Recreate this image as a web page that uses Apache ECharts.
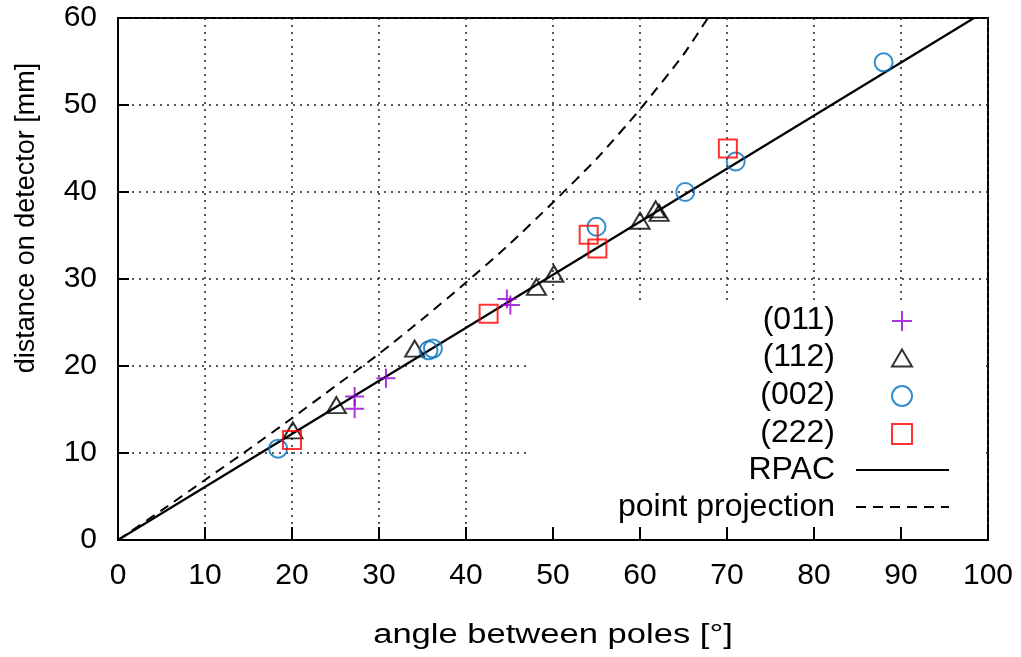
<!DOCTYPE html>
<html>
<head>
<meta charset="utf-8">
<script src="https://cdn.jsdelivr.net/npm/echarts@6/dist/echarts.min.js"></script>
<style>
  html, body { margin: 0; padding: 0; background: #fff; }
  #chart { width: 1021px; height: 657px; }
</style>
</head>
<body>
<div id="chart"></div>
<script>
// Measured pole positions: [angle between poles (deg), distance on detector (mm)]
const poles011 = [[27.2, 16.5], [27.2, 15.1], [30.8, 18.6], [44.7, 27.7], [45.1, 27.0]];
const poles112 = [[20.1, 12.6], [25.1, 15.5], [34.1, 22.0], [48.1, 29.1], [50.1, 30.6],
                  [60.0, 36.7], [61.8, 38.0], [62.2, 37.6]];
const poles002 = [[18.4, 10.5], [35.7, 21.8], [36.2, 22.0], [55.0, 36.0], [65.2, 40.0],
                  [71.0, 43.5], [88.0, 54.9]];
const poles222 = [[20.0, 11.5], [42.6, 26.0], [54.1, 35.1], [55.1, 33.5], [70.1, 45.0]];

// Model curves
const rpacCurve = [[0, 0], [98.4, 60]];
const pointProjectionCurve = [[0, 0], [5, 3.4], [10, 6.9], [15, 10.4], [20, 14.0], [25, 17.7],
  [30, 21.4], [35, 25.4], [40, 29.6], [45, 34.0], [50, 38.8], [55, 43.8], [60, 49.5],
  [65, 55.8], [67.8, 60]];

// Axis ranges / tick spacing
const xRange = { min: 0, max: 100, step: 10 };
const yRange = { min: 0, max: 60, step: 10 };

const xTitle = 'angle between poles [°]';
const yTitle = 'distance on detector [mm]';
const keyNames = ['(011)', '(112)', '(002)', '(222)', 'RPAC', 'point projection'];

const FONT = '"Liberation Sans", Arial, Helvetica, sans-serif';
const chart = echarts.init(document.getElementById('chart'), null, { renderer: 'canvas' });

const gridDots = { color: '#222', width: 1.5, type: [2, 5] };

// key layout: row centres, label right edge, symbol column centre, line sample extent
const keyRowY = [320, 357, 395, 433, 470, 507];
const keyTextRight = 835;
const keySymbolX = 903;
const keyLineRight = 950;
const keyLineWidth = 93;

function keyIcon(i, w, h, isLine) {
  const name = keyNames[i];
  return {
    data: isLine ? [{ name: name, itemStyle: { opacity: 0 } }] : [name],
    orient: 'vertical',
    align: 'right',
    right: isLine ? 1021 - keyLineRight : 1021 - (keySymbolX + w / 2),
    top: keyRowY[i] - h / 2,
    padding: 0,
    itemWidth: w,
    itemHeight: h,
    selectedMode: false,
    formatter: function () { return ''; },
    textStyle: { fontSize: 1 }
  };
}

const keyLabels = keyNames.map(function (name, i) {
  return {
    type: 'text', z: 6, x: keyTextRight, y: keyRowY[i],
    style: { text: name, font: '32px ' + FONT, fill: '#000', align: 'right', verticalAlign: 'middle' }
  };
});

const option = {
  backgroundColor: '#fff',
  animation: false,
  textStyle: { fontFamily: FONT },
  grid: {
    left: 118, right: 33, top: 18, bottom: 117,
    show: true, borderColor: '#000', borderWidth: 2, backgroundColor: 'transparent'
  },
  xAxis: [
    {
      type: 'value', min: xRange.min, max: xRange.max, interval: xRange.step, z: 5,
      axisLine: { show: true, lineStyle: { color: '#000', width: 2 } },
      axisTick: { show: true, inside: true, length: 13, lineStyle: { color: '#000', width: 2 } },
      axisLabel: { fontFamily: FONT, fontSize: 30, color: '#000', margin: 21 },
      splitLine: { show: false }
    },
    {
      type: 'value', min: xRange.min, max: xRange.max, interval: xRange.step, z: 0,
      axisLine: { show: false }, axisTick: { show: false }, axisLabel: { show: false },
      splitLine: { show: true, lineStyle: gridDots }
    }
  ],
  yAxis: [
    {
      type: 'value', min: yRange.min, max: yRange.max, interval: yRange.step, z: 5,
      axisLine: { show: true, lineStyle: { color: '#000', width: 2 } },
      axisTick: { show: true, inside: true, length: 11, lineStyle: { color: '#000', width: 2 } },
      axisLabel: { fontFamily: FONT, fontSize: 30, color: '#000', margin: 21 },
      splitLine: { show: false }
    },
    {
      type: 'value', min: yRange.min, max: yRange.max, interval: yRange.step, z: 0,
      axisLine: { show: false }, axisTick: { show: false }, axisLabel: { show: false },
      splitLine: { show: true, lineStyle: gridDots }
    }
  ],
  legend: [
    keyIcon(0, 20, 20, false),
    keyIcon(1, 20, 17, false),
    keyIcon(2, 20, 20, false),
    keyIcon(3, 20, 20, false),
    keyIcon(4, keyLineWidth, 20, true),
    keyIcon(5, keyLineWidth, 20, true)
  ],
  graphic: [
    {
      // key area keeps the dotted grid out from behind the legend
      type: 'rect', z: 1, silent: true,
      shape: { x: 531, y: 300, width: 455, height: 238 },
      style: { fill: '#fff' }
    },
    {
      type: 'text', z: 6, x: 553, y: 636, scaleX: 1.28,
      style: { text: xTitle, font: '27px ' + FONT, fill: '#000', align: 'center', verticalAlign: 'middle' }
    },
    {
      type: 'text', z: 6, x: 27, y: 218, rotation: Math.PI / 2,
      style: { text: yTitle, font: '27px ' + FONT, fill: '#000', align: 'center', verticalAlign: 'middle' }
    }
  ].concat(keyLabels),
  series: [
    {
      name: 'RPAC', type: 'line', data: rpacCurve, xAxisIndex: 0, yAxisIndex: 0,
      showSymbol: false, symbol: 'none', z: 3,
      lineStyle: { color: '#000', width: 2.2 }
    },
    {
      name: 'point projection', type: 'line', data: pointProjectionCurve, xAxisIndex: 0, yAxisIndex: 0,
      showSymbol: false, symbol: 'none', smooth: 0.2, z: 3,
      lineStyle: { color: '#000', width: 2, type: [10, 7] }
    },
    {
      name: '(011)', type: 'scatter', data: poles011, xAxisIndex: 0, yAxisIndex: 0, z: 4,
      symbol: 'path://M0,10L20,10M10,0L10,20', symbolSize: 19,
      itemStyle: { color: 'transparent', borderColor: '#9400D3', borderWidth: 2 }
    },
    {
      name: '(112)', type: 'scatter', data: poles112, xAxisIndex: 0, yAxisIndex: 0, z: 4,
      symbol: 'triangle', symbolSize: [19, 16],
      itemStyle: { color: 'transparent', borderColor: '#000', borderWidth: 2 }
    },
    {
      name: '(002)', type: 'scatter', data: poles002, xAxisIndex: 0, yAxisIndex: 0, z: 4,
      symbol: 'circle', symbolSize: 18,
      itemStyle: { color: 'transparent', borderColor: '#0072BD', borderWidth: 2 }
    },
    {
      name: '(222)', type: 'scatter', data: poles222, xAxisIndex: 0, yAxisIndex: 0, z: 4,
      symbol: 'rect', symbolSize: 18,
      itemStyle: { color: 'transparent', borderColor: '#FF0000', borderWidth: 2 }
    }
  ]
};

chart.setOption(option);
</script>
</body>
</html>
